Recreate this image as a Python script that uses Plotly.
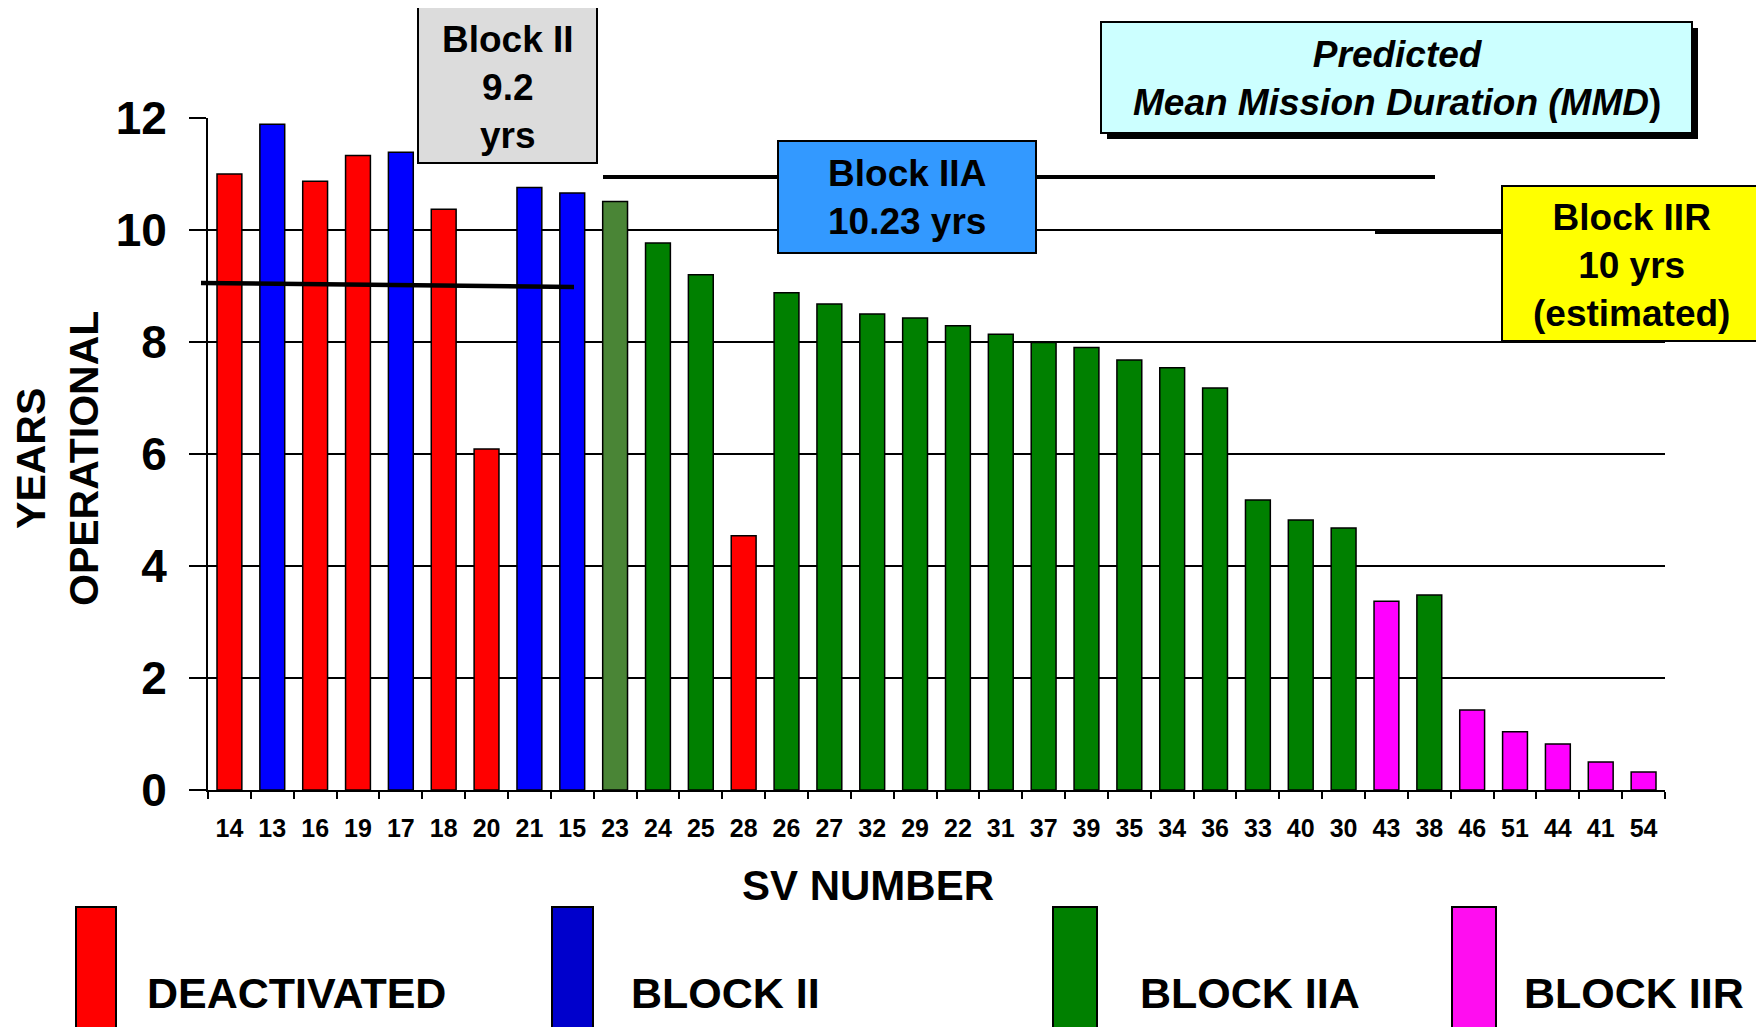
import plotly.graph_objects as go

# ---------------- data ----------------
sv_numbers = ["14", "13", "16", "19", "17", "18", "20", "21", "15", "23", "24", "25",
              "28", "26", "27", "32", "29", "22", "31", "37", "39", "35", "34", "36",
              "33", "40", "30", "43", "38", "46", "51", "44", "41", "54"]
years_operational = [11.0, 11.89, 10.87, 11.33, 11.39, 10.37, 6.09, 10.76, 10.66, 10.51,
                     9.77, 9.2, 4.54, 8.88, 8.68, 8.5, 8.43, 8.29, 8.14, 7.99, 7.9, 7.68,
                     7.54, 7.18, 5.18, 4.82, 4.68, 3.37, 3.48, 1.43, 1.04, 0.82, 0.5, 0.32]
status = ["DEACTIVATED", "BLOCK II", "DEACTIVATED", "DEACTIVATED", "BLOCK II", "DEACTIVATED",
          "DEACTIVATED", "BLOCK II", "BLOCK II", "BLOCK IIA (first)", "BLOCK IIA", "BLOCK IIA",
          "DEACTIVATED", "BLOCK IIA", "BLOCK IIA", "BLOCK IIA", "BLOCK IIA", "BLOCK IIA",
          "BLOCK IIA", "BLOCK IIA", "BLOCK IIA", "BLOCK IIA", "BLOCK IIA", "BLOCK IIA",
          "BLOCK IIA", "BLOCK IIA", "BLOCK IIA", "BLOCK IIR", "BLOCK IIA", "BLOCK IIR",
          "BLOCK IIR", "BLOCK IIR", "BLOCK IIR", "BLOCK IIR"]
legend_labels = ["DEACTIVATED", "BLOCK II", "BLOCK IIA", "BLOCK IIR"]
y_ticks = [0, 2, 4, 6, 8, 10, 12]

bar_colors = {"DEACTIVATED": "#FF0000", "BLOCK II": "#0000FF", "BLOCK IIA": "#008000",
              "BLOCK IIA (first)": "#4A8536", "BLOCK IIR": "#FF00FF"}
legend_colors = {"DEACTIVATED": "#FF0000", "BLOCK II": "#0000CC", "BLOCK IIA": "#008000",
                 "BLOCK IIR": "#FF0DF0"}

# ---------------- layout geometry (page pixels) ----------------
BODY = 8                      # default body margin of the html page
W, H = 1764 - BODY, 1027 - BODY
PL, PR, PT, PB = 208, 1665, 118, 790
FONT = "Liberation Sans, Arial, sans-serif"


def px(x):
    return (x - PL) / (PR - PL)


def py(y):
    return (PB - y) / (PB - PT)


fig = go.Figure()
fig.add_trace(go.Bar(
    x=sv_numbers, y=years_operational,
    marker=dict(color=[bar_colors[s] for s in status], line=dict(color="black", width=1.5)),
    showlegend=False,
))

shapes = []
annotations = []


def rect(x0, y0, x1, y1, fill, lw=2):
    shapes.append(dict(type="rect", xref="paper", yref="paper", layer="above",
                       x0=px(x0), x1=px(x1), y0=py(y1), y1=py(y0),
                       fillcolor=fill, line=dict(color="black", width=lw)))


def line(x0, y0, x1, y1, w):
    shapes.append(dict(type="line", xref="paper", yref="paper", layer="above",
                       x0=px(x0), x1=px(x1), y0=py(y0), y1=py(y1),
                       line=dict(color="black", width=w)))


def text(x, y, t, size, xanchor="center", angle=0):
    annotations.append(dict(xref="paper", yref="paper", x=px(x), y=py(y), text=t,
                            showarrow=False, xanchor=xanchor, yanchor="middle",
                            textangle=angle, borderpad=0,
                            font=dict(family=FONT, size=size, color="black", weight="bold")))


# mean-mission-duration lines
line(201, 283, 574, 287, 4.5)
line(603, 177, 1435, 177, 4)
line(1375, 232, 1502, 232, 4)

# Block II box
rect(418, 7, 597, 163, "#DCDCDC")
text(507.5, 87, "Block II<br>9.2<br>yrs", 37)
# Block IIA box
rect(778, 141, 1036, 253, "#3399FF")
text(907, 197, "Block IIA<br>10.23 yrs", 37)
# Block IIR box
rect(1502, 186, 1761, 341, "#FFFF00")
text(1631.5, 265, "Block IIR<br>10 yrs<br>(estimated)", 37)
# Predicted MMD box with shadow
shapes.append(dict(type="rect", xref="paper", yref="paper", layer="above",
                   x0=px(1107), x1=px(1698), y0=py(139), y1=py(28),
                   fillcolor="black", line=dict(width=0)))
rect(1101, 22, 1692, 133, "#CCFFFF")
text(1396.5, 78, "<i>Predicted<br>Mean Mission Duration (MMD</i>)", 37)

# axis titles
text(57, 459, "YEARS<br>OPERATIONAL", 41, angle=-90)
text(868, 885, "SV NUMBER", 42)

# legend
legend_pos = [(76, 116, 146), (552, 593, 630), (1053, 1097, 1139), (1452, 1496, 1523)]
for lab, (x0, x1, tx) in zip(legend_labels, legend_pos):
    rect(x0, 907, x1, 1040, legend_colors[lab], lw=2)
    text(tx, 993, lab, 43, xanchor="left")

fig.update_layout(
    width=W, height=H,
    margin=dict(l=PL - BODY, r=W - (PR - BODY), t=PT - BODY, b=H - (PB - BODY), pad=0),
    paper_bgcolor="white", plot_bgcolor="white",
    bargap=0.42,
    shapes=shapes, annotations=annotations,
    font=dict(family=FONT, color="black"),
)
fig.update_xaxes(
    type="category", tickson="boundaries", ticks="outside", ticklen=7, tickcolor="black",
    tickwidth=1.5, showline=True, linecolor="black", linewidth=2, showgrid=False,
    tickfont=dict(family=FONT, size=25, color="black", weight="bold"), ticklabelstandoff=15,
)
fig.update_yaxes(
    range=[0, 12], tickvals=y_ticks, ticks="outside", ticklen=17, tickcolor="black",
    tickwidth=1.5, showline=True, linecolor="black", linewidth=2, showgrid=True,
    gridcolor="black", gridwidth=1.5, zeroline=False,
    tickfont=dict(family=FONT, size=46, color="black", weight="bold"), ticklabelstandoff=13,
)

fig.write_html("out.html")
